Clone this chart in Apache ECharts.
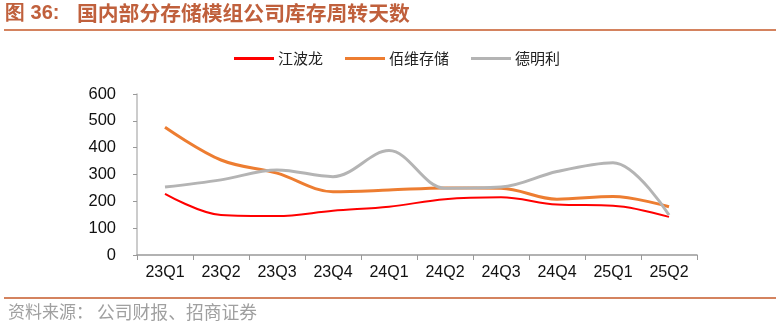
<!DOCTYPE html>
<html><head><meta charset="utf-8">
<script src="https://cdn.jsdelivr.net/npm/echarts@6/dist/echarts.min.js"></script>
<style>html,body{margin:0;padding:0;background:#fff}#c{width:780px;height:327px}</style>
</head><body><div id="c"></div>
<script>
var categories = ['23Q1','23Q2','23Q3','23Q4','24Q1','24Q2','24Q3','24Q4','25Q1','25Q2'];
var jiangbolong = [228,149,145,165,180,208,215,188,184,142];
var baiwei = [476,354,305,236,242,250,249,208,218,180];
var demingli = [253,280,317,292,389,249,253,311,344,149];
var yTicks = [0,100,200,300,400,500,600];

var chart = echarts.init(document.getElementById('c'));
var font = '"Liberation Sans", Arial, sans-serif';
var cjk = '"Noto Sans CJK SC", sans-serif';
function s(name, data, color, w){
  return {name:name,type:'line',smooth:0.35,data:data,symbol:'none',
    lineStyle:{color:color,width:w},itemStyle:{color:color}};
}
chart.setOption({
  animation:false,
  graphic:[
    {type:'text',left:5,top:3,style:{text:'图 36:',fill:'#c0603c',font:'bold 20px '+font}},
    {type:'text',left:77,top:3,style:{text:'国内部分存储模组公司库存周转天数',fill:'#c0603c',font:'bold 20.8px '+cjk}},
    {type:'rect',shape:{x:4,y:29,width:772,height:2},style:{fill:'#d4835f'}},
    {type:'rect',shape:{x:4,y:297,width:772,height:2},style:{fill:'#d4835f'}},
    {type:'text',left:8,top:303,style:{text:'资料来源：',fill:'#a0a0a0',font:'17px '+cjk}},
    {type:'text',left:97,top:303,style:{text:'公司财报、招商证券',fill:'#a0a0a0',font:'17.8px '+cjk}}
  ],
  legend:{top:46,left:229,itemWidth:40,itemHeight:3,itemGap:22,icon:'rect',
    textStyle:{fontFamily:cjk,fontSize:15,color:'#222',padding:[0,0,0,-1]},
    data:['江波龙','佰维存储','德明利']},
  grid:{left:137,right:83,top:94,bottom:72},
  xAxis:{type:'category',data:categories,boundaryGap:true,
    axisLine:{lineStyle:{color:'#999',width:1.5}},
    axisTick:{show:true,length:5,lineStyle:{color:'#999'}},
    axisLabel:{color:'#111',fontSize:16,fontFamily:font,margin:10}},
  yAxis:{type:'value',min:yTicks[0],max:yTicks[yTicks.length-1],interval:100,
    splitLine:{show:false},
    axisLine:{show:true,lineStyle:{color:'#bbb',width:1.5}},
    axisTick:{show:true,length:4,lineStyle:{color:'#999'}},
    axisLabel:{color:'#111',fontSize:16.5,fontFamily:font,margin:21,padding:[5,0,0,0]}},
  series:[
    s('江波龙',jiangbolong,'#ff0000',2),
    s('佰维存储',baiwei,'#ed7d31',3),
    s('德明利',demingli,'#b4b4b4',3)
  ]
});
</script></body></html>
